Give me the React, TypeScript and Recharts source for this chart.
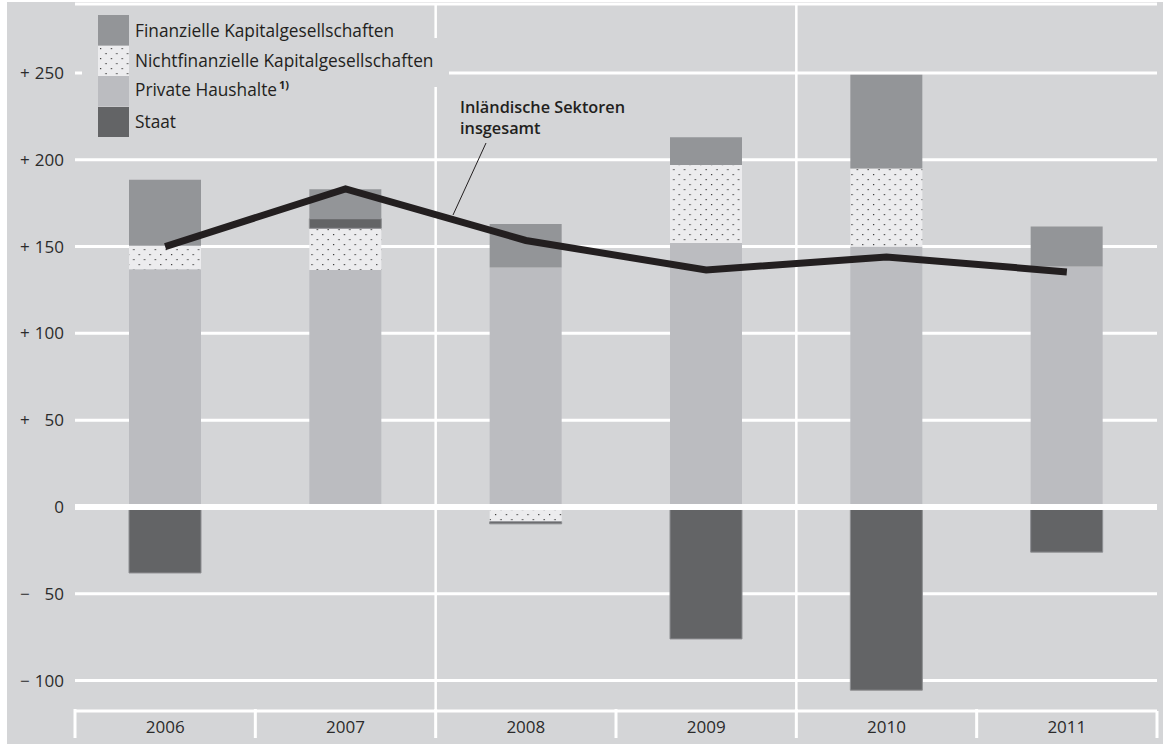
import { ComposedChart, Bar, Line, XAxis, YAxis, CartesianGrid, ReferenceLine } from "recharts"

// grey palette of the original print chart
const C_BG = "#d4d5d7"
const C_FIN = "#939598"
const C_NONFIN_BG = "#ececee"
const C_PRIVATE = "#bbbcc0"
const C_STATE = "#636466"
const C_LINE = "#231f20"
const C_TEXT = "#2b2b2b"
const FONT = "'Open Sans', 'Noto Sans', sans-serif"

const YEARS = ["2006", "2007", "2008", "2009", "2010", "2011"]
const PRIVATE_HH = [137, 136.5, 138, 152, 150, 138.5]
const NONFIN_CORP = [13.5, 24, -8.5, 45, 45, 0]
const STATE = [-38, 5.5, -1.2, -76, -105.5, -26]
const FIN_CORP = [38, 17, 25, 16, 54, 23]
const TOTAL = [150, 183.2, 153.5, 136.5, 144, 135.4]
const Y_TICKS = [-100, -50, 0, 50, 100, 150, 200, 250]

const data = YEARS.map((year, i) => ({
  year,
  priv: PRIVATE_HH[i],
  nonfin: NONFIN_CORP[i],
  state: STATE[i],
  fin: FIN_CORP[i],
  total: TOTAL[i],
}))

const CHART_W = 1156
const CHART_H = 742
const PLOT_LEFT = 68
const PLOT_RIGHT = 1150
const BAND = (PLOT_RIGHT - PLOT_LEFT) / YEARS.length

function YTick({ x, y, payload }: any) {
  const v = payload.value as number
  const sign = v > 0 ? "+" : v < 0 ? "\u2212" : ""
  return (
    <g fontFamily={FONT} fontSize={17} fill={C_TEXT}>
      {sign && (
        <text x={x - 55} y={y} dy="0.35em" textAnchor="start">
          {sign}
        </text>
      )}
      <text x={x - 11} y={y} dy="0.35em" textAnchor="end">
        {Math.abs(v)}
      </text>
    </g>
  )
}

function XTick({ x, y, payload, index }: any) {
  const left = x - BAND / 2
  const right = x + BAND / 2
  return (
    <g>
      <line x1={left} x2={left} y1={y - 2} y2={y + 27} stroke="#fff" strokeWidth={3} />
      {index === YEARS.length - 1 && (
        <line x1={right} x2={right} y1={y} y2={y + 27} stroke="#fff" strokeWidth={3} />
      )}
      <text x={x} y={y + 22} textAnchor="middle" fontFamily={FONT} fontSize={17} fill={C_TEXT}>
        {payload.value}
      </text>
    </g>
  )
}

function Swatch({ kind }: { kind: string }) {
  const fill =
    kind === "fin" ? C_FIN : kind === "nonfin" ? "url(#dots)" : kind === "priv" ? C_PRIVATE : C_STATE
  return (
    <svg width={31} height={30.5} style={{ display: "block", flex: "none" }}>
      <rect x={0} y={0} width={31} height={30.5} fill={fill} />
    </svg>
  )
}

const LEGEND = [
  { kind: "fin", label: "Finanzielle Kapitalgesellschaften" },
  { kind: "nonfin", label: "Nichtfinanzielle Kapitalgesellschaften" },
  { kind: "priv", label: "Private Haushalte" },
  { kind: "state", label: "Staat" },
]

export default function App() {
  return (
    <div style={{ position: "absolute", left: 0, top: 0, width: 1163, height: 744, background: "#fff" }}>
      <svg width={0} height={0} style={{ position: "absolute" }}>
        <defs>
          <pattern id="dots" patternUnits="userSpaceOnUse" width={10.8} height={10}>
            <rect width={10.8} height={10} fill={C_NONFIN_BG} />
            <rect x={2} y={2} width={1.2} height={1.2} fill="#333" />
            <rect x={7.4} y={7} width={1.2} height={1.2} fill="#333" />
          </pattern>
        </defs>
      </svg>

      <div style={{ position: "absolute", left: 7, top: 2, width: CHART_W, height: CHART_H, background: C_BG }}>
        <ComposedChart
          width={CHART_W}
          height={CHART_H}
          data={data}
          stackOffset="sign"
          margin={{ top: 2, right: CHART_W - PLOT_RIGHT, bottom: 0, left: 0 }}
        >
          <CartesianGrid horizontal vertical={false} stroke="#fff" strokeWidth={3} />
          <CartesianGrid
            horizontal={false}
            vertical
            stroke="#fff"
            strokeWidth={2.5}
            verticalCoordinatesGenerator={({ offset }: any) => [
              offset.left + 2 * BAND,
              offset.left + 4 * BAND,
            ]}
          />
          <XAxis
            dataKey="year"
            height={33}
            axisLine={false}
            tickLine={false}
            tickSize={0}
            tickMargin={0}
            interval={0}
            tick={<XTick />}
          />
          <YAxis
            width={PLOT_LEFT}
            domain={[-117.5, 289.7]}
            ticks={Y_TICKS}
            axisLine={false}
            tickLine={false}
            tickSize={0}
            tickMargin={0}
            tick={<YTick />}
            allowDataOverflow
          />
          <Bar dataKey="priv" stackId="a" fill={C_PRIVATE} barSize={72} isAnimationActive={false} />
          <Bar dataKey="nonfin" stackId="a" fill="url(#dots)" barSize={72} isAnimationActive={false} />
          <Bar
            dataKey="state"
            stackId="a"
            fill={C_STATE}
            stroke="#8d8e91"
            strokeWidth={1}
            barSize={72}
            isAnimationActive={false}
          />
          <Bar dataKey="fin" stackId="a" fill={C_FIN} barSize={72} isAnimationActive={false} />
          <ReferenceLine y={0} stroke="#fff" strokeWidth={6} />
          <Line
            type="linear"
            dataKey="total"
            stroke={C_LINE}
            strokeWidth={7}
            strokeLinejoin="miter"
            dot={false}
            activeDot={false}
            isAnimationActive={false}
          />
        </ComposedChart>
      </div>

      {/* legend, boxed in the chart grey so it hides the grid behind it */}
      <div style={{ position: "absolute", left: 82, top: 15, fontFamily: FONT, fontSize: 17.3, color: C_LINE }}>
        {LEGEND.map((item) => (
          <div
            key={item.kind}
            style={{
              display: "flex",
              alignItems: "center",
              height: 30.5,
              width: "max-content",
              paddingLeft: 16,
              paddingRight: 16,
              background: C_BG,
              boxShadow: item.kind === "nonfin" ? `0 -8px 0 0 ${C_BG}, 0 11px 0 0 ${C_BG}` : "none",
            }}
          >
            <Swatch kind={item.kind} />
            <span style={{ marginLeft: 6, whiteSpace: "nowrap", position: "relative", top: item.kind === "priv" ? -2 : 0 }}>
              {item.label}
              {item.kind === "priv" && (
                <sup style={{ fontSize: 11, fontWeight: 700, marginLeft: 2 }}>1)</sup>
              )}
            </span>
          </div>
        ))}
      </div>

      {/* line annotation */}
      <svg width={1163} height={744} style={{ position: "absolute", left: 0, top: 0, pointerEvents: "none" }}>
        <text x={460} y={113} fontFamily={FONT} fontSize={16.3} fontWeight={600} fill={C_LINE}>
          Inländische Sektoren
        </text>
        <text x={460} y={134} fontFamily={FONT} fontSize={16.3} fontWeight={600} fill={C_LINE}>
          insgesamt
        </text>
        <line x1={486} y1={143} x2={453} y2={215} stroke={C_LINE} strokeWidth={1} />
      </svg>
    </div>
  )
}
